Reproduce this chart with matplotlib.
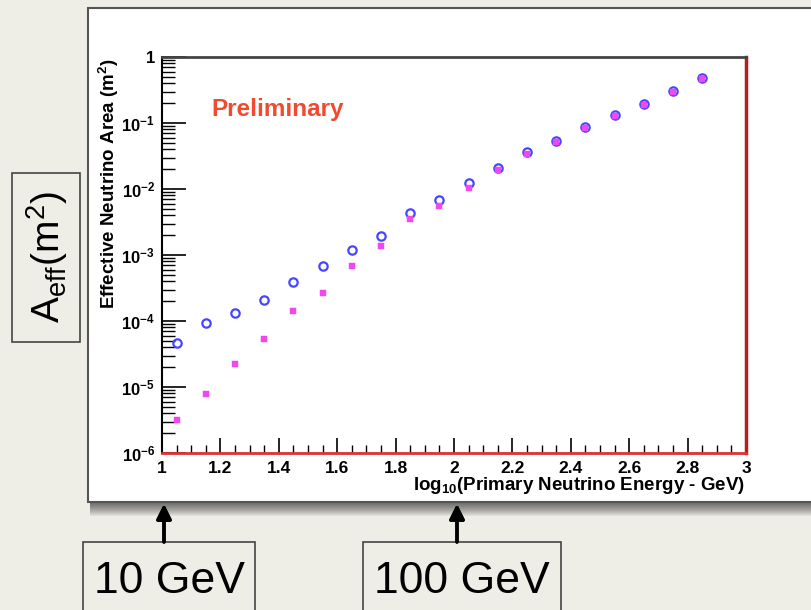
import numpy as np
import matplotlib
matplotlib.use("Agg")
import matplotlib.pyplot as plt
from matplotlib.patches import Rectangle
from matplotlib.ticker import FixedLocator, NullFormatter

plt.rcParams['font.family'] = ['Liberation Sans', 'DejaVu Sans']
plt.rcParams['mathtext.fontset'] = 'custom'
plt.rcParams['mathtext.rm'] = 'Liberation Sans'
plt.rcParams['mathtext.it'] = 'Liberation Sans:italic'
plt.rcParams['mathtext.bf'] = 'Liberation Sans:bold'

# log10(E / GeV) bin centres
log_energy = [1.05, 1.15, 1.25, 1.35, 1.45, 1.55, 1.65, 1.75, 1.85, 1.95,
              2.05, 2.15, 2.25, 2.35, 2.45, 2.55, 2.65, 2.75, 2.85]
# effective area (m^2), open blue circles
aeff_circles = [4.6e-5, 9.2e-5, 1.3e-4, 2.1e-4, 3.9e-4, 6.7e-4, 1.18e-3,
                1.93e-3, 4.3e-3, 6.9e-3, 1.23e-2, 2.06e-2, 3.6e-2, 5.3e-2,
                8.7e-2, 0.131, 0.193, 0.307, 0.48]
# effective area (m^2), filled magenta squares
aeff_squares = [3.2e-6, 7.9e-6, 2.2e-5, 5.4e-5, 1.4e-4, 2.7e-4, 6.7e-4,
                1.35e-3, 3.5e-3, 5.6e-3, 1.05e-2, 1.95e-2, 3.4e-2, 5.1e-2,
                8.4e-2, 0.127, 0.188, 0.30, 0.47]

x_ticks = [1.0, 1.2, 1.4, 1.6, 1.8, 2.0, 2.2, 2.4, 2.6, 2.8, 3.0]
x_ticklabels = ['1', '1.2', '1.4', '1.6', '1.8', '2', '2.2', '2.4', '2.6', '2.8', '3']
y_ticks = [1e-6, 1e-5, 1e-4, 1e-3, 1e-2, 1e-1, 1.0]
y_ticklabels = [r'$\mathbf{10^{-6}}$', r'$\mathbf{10^{-5}}$', r'$\mathbf{10^{-4}}$',
                r'$\mathbf{10^{-3}}$', r'$\mathbf{10^{-2}}$', r'$\mathbf{10^{-1}}$', '1']

W, H = 812, 610
BG = '#eeede6'


def fx(x):
    return x / W


def fy(y):
    return 1 - y / H


def box(x0, y0, x1, y1, **kw):
    # rectangle given in pixel corners, y measured from the top
    return Rectangle((fx(x0), fy(y1)), fx(x1) - fx(x0), (y1 - y0) / H,
                     transform=fig.transFigure, **kw)


fig = plt.figure(figsize=(W / 100, H / 100), dpi=100, facecolor=BG)

# white slide panel with a soft drop shadow (kept below the axes)
for i in range(14, 0, -1):
    fig.add_artist(box(90, 8 + i, W + 20, 502 + i, facecolor='black',
                       edgecolor='none', alpha=0.05, zorder=-3))
fig.add_artist(box(88, 8, W + 20, 502, facecolor='white',
                   edgecolor='#555555', linewidth=1.5, zorder=-2))

ax = fig.add_axes([fx(162), fy(453), fx(746) - fx(162), (453 - 57) / H])
ax.set_zorder(2)
ax.set_facecolor('white')

ax.plot(log_energy, aeff_circles, linestyle='none', marker='o', markersize=6,
        markerfacecolor='none', markeredgecolor='#4646ff', markeredgewidth=1.6)
ax.plot(log_energy, aeff_squares, linestyle='none', marker='s', markersize=3.8,
        markerfacecolor='#f048f0', markeredgecolor='#f048f0', markeredgewidth=0.3)

ax.set_yscale('log')
ax.set_xlim(1, 3)
ax.set_ylim(1e-6, 1)

ax.set_xticks(x_ticks)
ax.set_xticklabels(x_ticklabels)
ax.xaxis.set_minor_locator(FixedLocator(np.arange(1.0, 3.001, 0.05)))
ax.set_yticks(y_ticks)
ax.set_yticklabels(y_ticklabels)
ax.yaxis.set_minor_locator(FixedLocator(
    [m * 10.0 ** e for e in range(-6, 0) for m in range(2, 10)]))
ax.yaxis.set_minor_formatter(NullFormatter())

ax.tick_params(axis='both', which='both', direction='in', colors='black',
               labelsize=12.5, top=False, right=False)
ax.tick_params(axis='y', labelsize=12)
ax.tick_params(axis='x', which='major', length=11, width=1.2, pad=6)
ax.tick_params(axis='x', which='minor', length=5.5, width=1.0)
ax.tick_params(axis='y', which='major', length=17, width=1.2, pad=5)
ax.tick_params(axis='y', which='minor', length=9, width=1.0)
for lbl in ax.get_xticklabels() + ax.get_yticklabels():
    lbl.set_fontweight('bold')

ax.spines['left'].set_color('black')
ax.spines['left'].set_linewidth(1.5)
ax.spines['top'].set_color('#444444')
ax.spines['top'].set_linewidth(2)
ax.spines['right'].set_color('#b02020')
ax.spines['right'].set_linewidth(2.5)
ax.spines['bottom'].set_color('#e03030')
ax.spines['bottom'].set_linewidth(2)

ax.text(0.085, 0.868, 'Preliminary', transform=ax.transAxes, color='#f04a30',
        fontsize=17.5, fontweight='bold', ha='left', va='center')

fig.text(fx(745), fy(490), r'log$_{\mathbf{10}}$(Primary Neutrino Energy - GeV)',
         ha='right', va='baseline', fontsize=13.5, fontweight='bold')
fig.text(fx(109), fy(58), r'Effective Neutrino Area (m$^{\mathbf{2}}$)',
         ha='center', va='top', rotation=90, fontsize=13.5, fontweight='bold')

# annotation boxes on the slide
fig.add_artist(box(12, 173, 80, 342, facecolor='none', edgecolor='#444444',
                   linewidth=1.2))
fig.text(fx(47), fy(257), r'A$_{\mathrm{eff}}$(m$^{2}$)', rotation=90,
         ha='center', va='center', fontsize=28)

fig.add_artist(box(83, 542, 255, H + 5, facecolor='none', edgecolor='#444444',
                   linewidth=1.2))
fig.add_artist(box(363, 542, 561, H + 5, facecolor='none', edgecolor='#444444',
                   linewidth=1.2))
fig.text(fx(169), fy(593), '10 GeV', ha='center', va='baseline', fontsize=32)
fig.text(fx(462), fy(593), '100 GeV', ha='center', va='baseline', fontsize=32)

for xa in (164, 457):
    fig.add_artist(plt.annotate('', xy=(xa, H - 504), xytext=(xa, H - 542),
                                xycoords='figure pixels', textcoords='figure pixels',
                                arrowprops=dict(arrowstyle='-|>', color='black',
                                                lw=2.5, mutation_scale=22,
                                                shrinkA=0, shrinkB=0)))

fig.savefig('out.png', dpi=100, facecolor=BG)
